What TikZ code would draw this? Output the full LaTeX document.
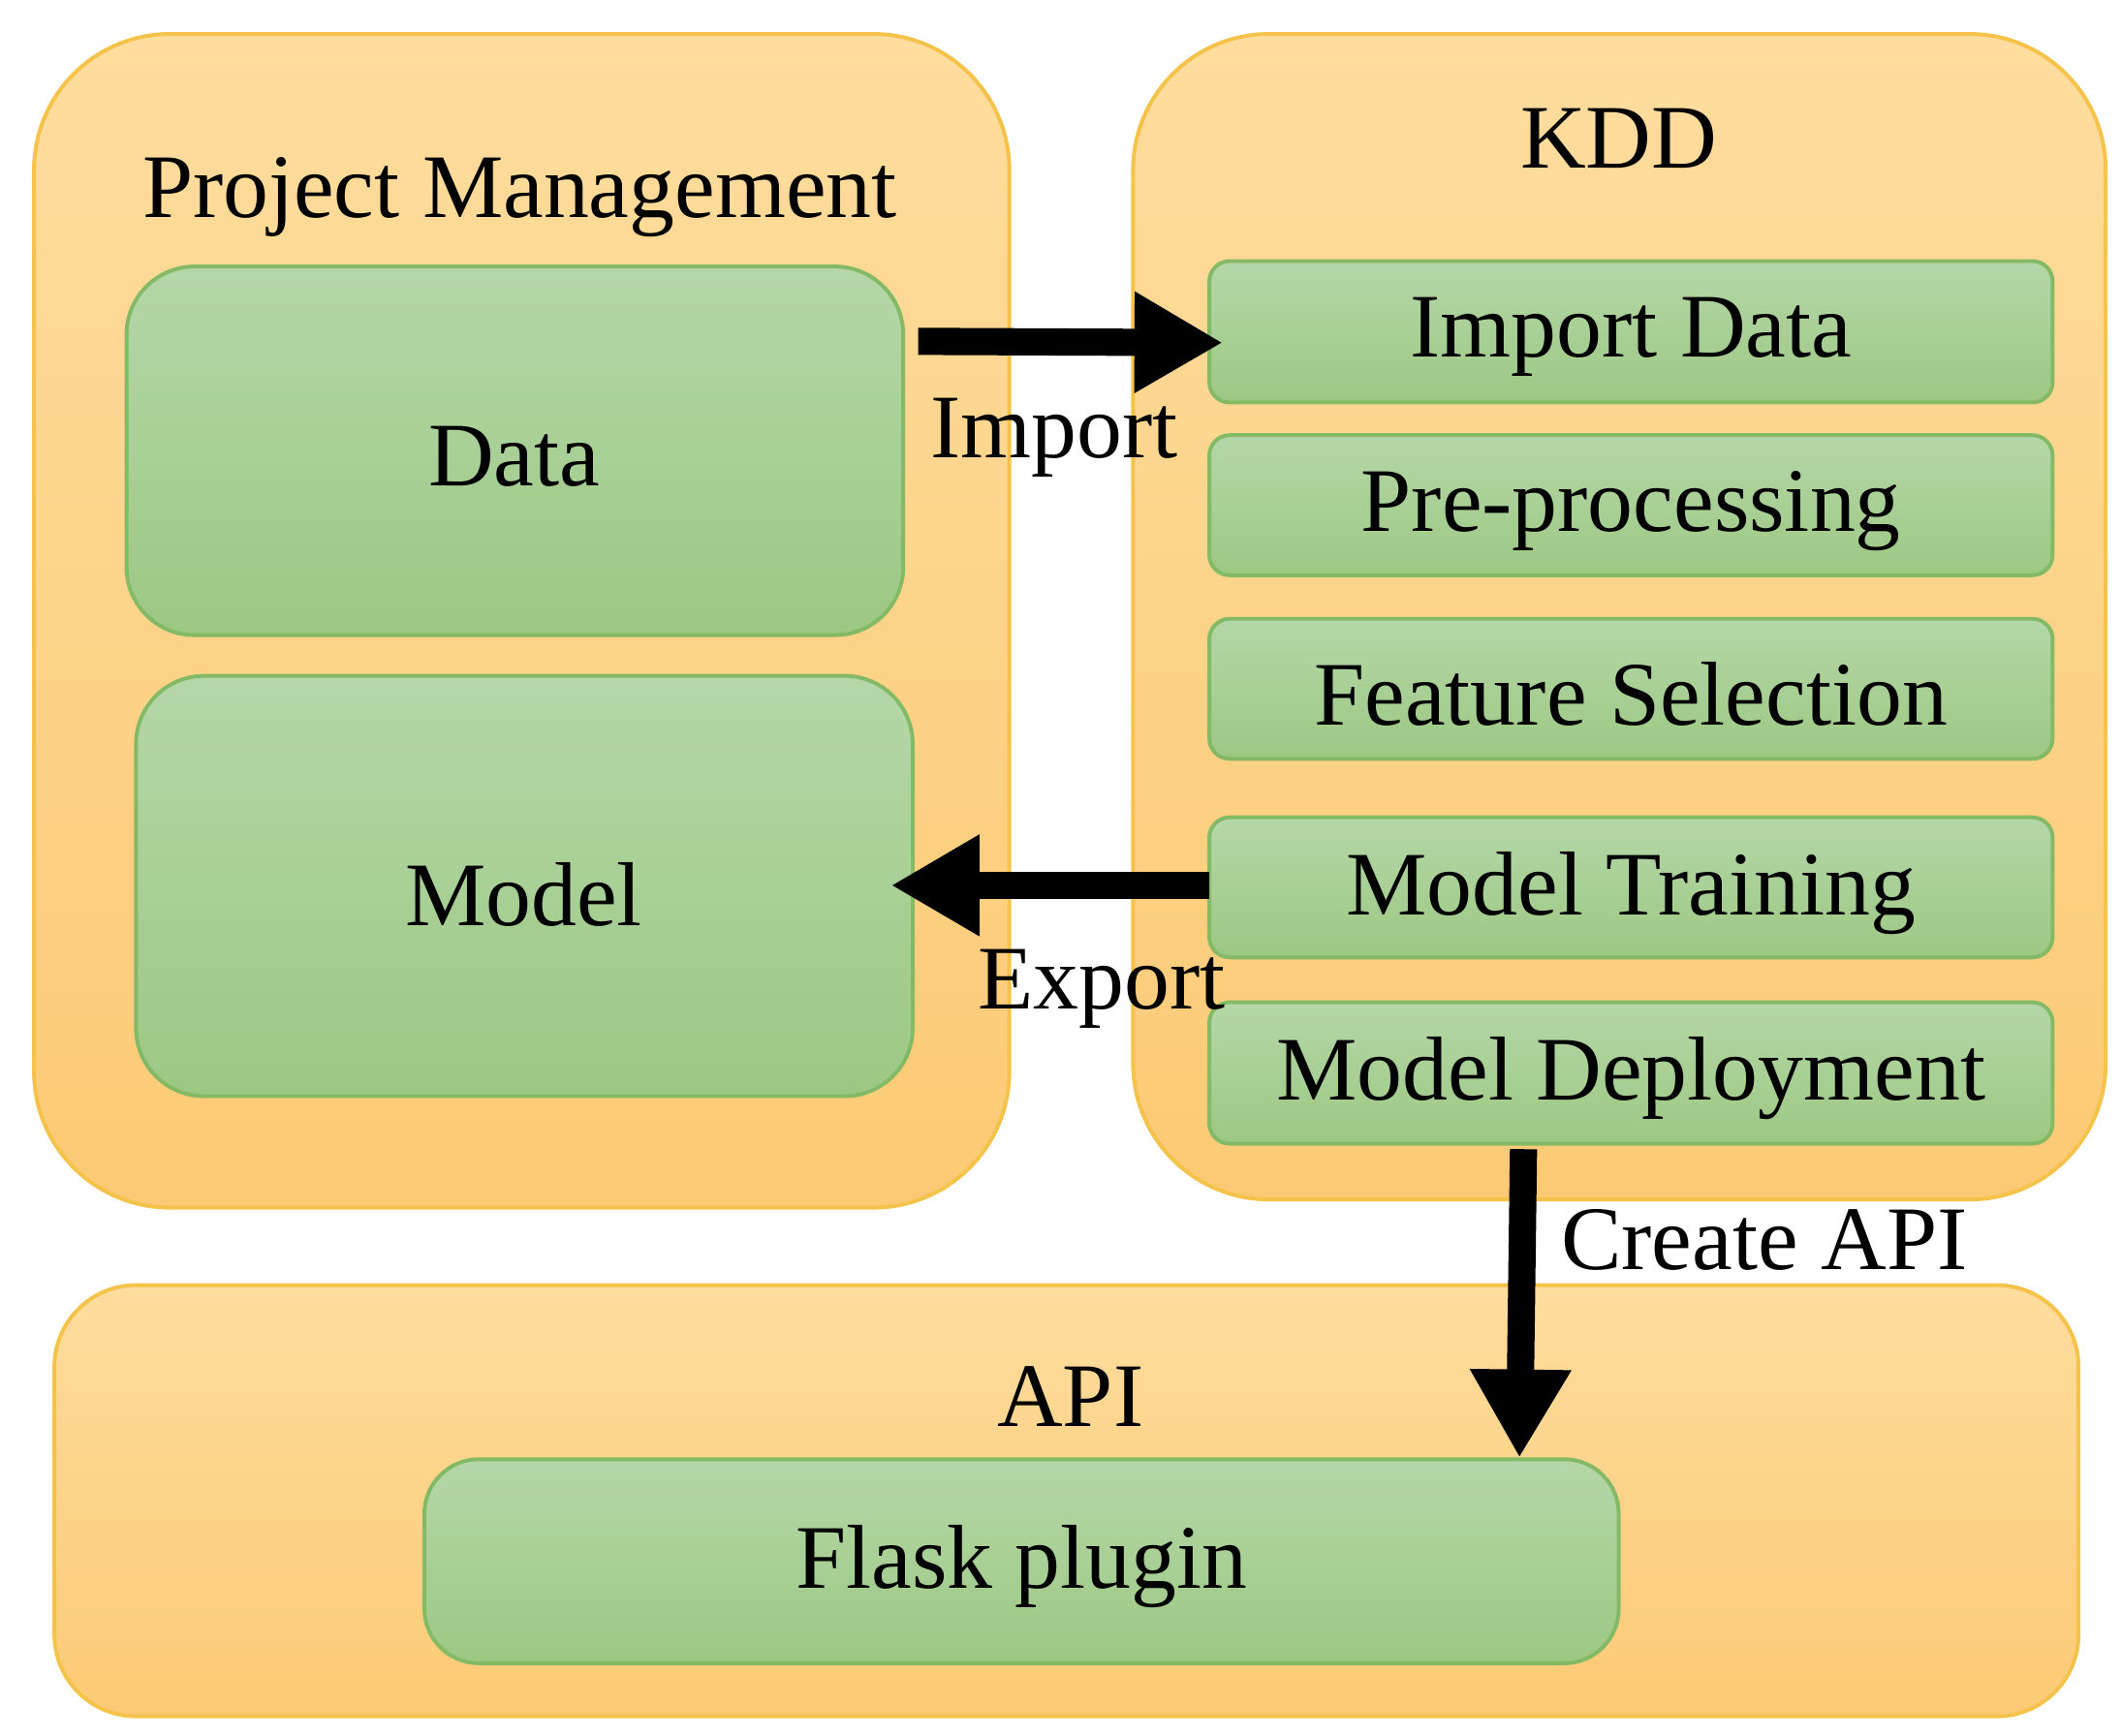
\documentclass[tikz,border=0pt]{standalone}
\usepackage{fontspec}
\setmainfont{Liberation Serif}
\usetikzlibrary{arrows.meta}
\definecolor{otop}{HTML}{FEDD9E}
\definecolor{obot}{HTML}{FCCA75}
\definecolor{oline}{HTML}{F5C34A}
\definecolor{gtop}{HTML}{B5D7A8}
\definecolor{gbot}{HTML}{9CC883}
\definecolor{gline}{HTML}{84BA66}
\begin{document}
\begin{tikzpicture}[x=0.1mm,y=-0.1mm,
  cont/.style={draw=oline,line width=0.8pt,top color=otop,bottom color=obot},
  box/.style={draw=gline,line width=0.8pt,top color=gtop,bottom color=gbot},
  lbl/.style={font=\fontsize{19}{22}\selectfont,inner sep=0pt},
  big/.style={-{Triangle[length=6.5mm,width=7mm]},line width=2mm,black}]
\useasboundingbox (0,0) rectangle (1560,1276);
\fill[white] (0,0) rectangle (1560,1276);
\draw[cont,rounded corners=10mm] (25,25) rectangle (742,888);
\draw[cont,rounded corners=10mm] (833,25) rectangle (1548,882);
\draw[cont,rounded corners=6mm] (40,945) rectangle (1528,1262);
\node[lbl] (pm) at (382,145) {Project Management};
\node[lbl] (kdd) at (1190,102) {KDD};
\node[lbl] (api) at (787,1027) {API};
\draw[box,rounded corners=5mm] (93,196) rectangle (664,467);
\node[lbl] (data) at (378,336) {Data};
\draw[box,rounded corners=5mm] (100,497) rectangle (671,806);
\node[lbl] (model) at (385,658) {Model};
\foreach \n/\a/\b/\t in {imp/192/296/Import Data,pre/320/423/Pre-processing,fs/455/558/Feature Selection,mt/601/704/Model Training,md/737/841/Model Deployment}{
  \draw[box,rounded corners=1.5mm] (889,\a) rectangle (1509,\b);
  \node[lbl] (\n) at (1199,{(\a+\b)/2+4}) {\t};
}
\draw[box,rounded corners=4mm] (312,1073) rectangle (1190,1223);
\node[lbl] (flask) at (751,1152) {Flask plugin};
\coordinate (i1) at (675,251);
\coordinate (i2) at (899,252);
\draw[big] (i1) -- (i2);
\coordinate (e1) at (889,651);
\coordinate (e2) at (655,651);
\draw[big] (e1) -- (e2);
\coordinate (c1) at (1120,845);
\coordinate (c2) at (1117,1072);
\draw[big] (c1) -- (c2);
\node[lbl] (limp) at (775,322) {Import};
\node[lbl] (lexp) at (810,727) {Export};
\node[lbl,anchor=west] (lapi) at (1147,912) {Create API};
\end{tikzpicture}
\end{document}
